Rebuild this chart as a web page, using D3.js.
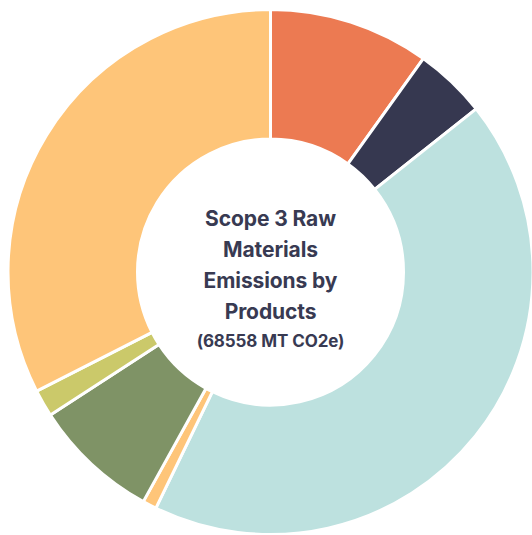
<!DOCTYPE html>
<html>
<head>
<meta charset="utf-8">
<script src="https://cdn.jsdelivr.net/npm/d3@7"></script>
<style>
  html, body { margin: 0; padding: 0; background: #fff; }
  svg { display: block; }
</style>
</head>
<body>
<svg id="chart" width="532" height="535"></svg>
<script>
const categories = ["Product 1", "Product 2", "Product 3", "Product 4", "Product 5", "Product 6", "Product 7"];
const values = [6780, 3045, 29385, 590, 5333, 1143, 22282];
const colors = ["#EC7A52", "#363850", "#BDE1DF", "#FEC579", "#7F9366", "#CBC96A", "#FEC579"];
const titleLines = ["Scope 3 Raw", "Materials", "Emissions by", "Products"];
const subtitle = "(68558 MT CO2e)";

const svg = d3.select("#chart");
const cx = 270.5, cy = 272, outerR = 262.5, innerR = 133;

const data = categories.map((c, i) => ({ name: c, value: values[i], color: colors[i] }));
const pie = d3.pie().value(d => d.value).sort(null);
const arc = d3.arc().innerRadius(innerR).outerRadius(outerR);

const g = svg.append("g").attr("transform", `translate(${cx},${cy})`);
g.selectAll("path")
  .data(pie(data))
  .join("path")
  .attr("d", arc)
  .attr("fill", d => d.data.color)
  .attr("stroke", "#ffffff")
  .attr("stroke-width", 3)
  .attr("stroke-linejoin", "round");

const text = g.append("g")
  .attr("font-family", "Inter, Roboto, 'Noto Sans', sans-serif")
  .attr("font-weight", 700)
  .attr("fill", "#383A52")
  .attr("text-anchor", "middle");

titleLines.forEach((t, i) => {
  text.append("text")
    .attr("x", 0)
    .attr("y", -46 + i * 31)
    .attr("font-size", 21)
    .attr("letter-spacing", -0.1)
    .text(t);
});
text.append("text")
  .attr("x", 0)
  .attr("y", 75)
  .attr("font-size", 17)
  .attr("letter-spacing", -0.1)
  .text(subtitle);
</script>
</body>
</html>
